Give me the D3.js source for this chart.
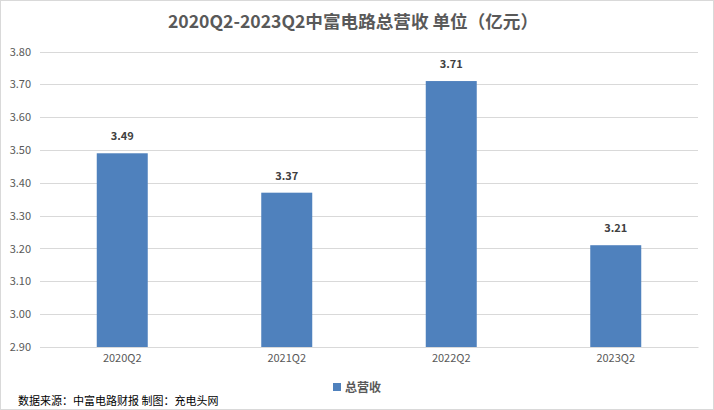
<!DOCTYPE html>
<html><head><meta charset="utf-8">
<script src="https://cdn.jsdelivr.net/npm/d3@7"></script>
<style>html,body{margin:0;padding:0;background:#fff;}svg{display:block;}</style>
</head><body>
<script>
const categories = ["2020Q2","2021Q2","2022Q2","2023Q2"];
const revenue = [3.49, 3.37, 3.71, 3.21];
const yTicks = [2.90,3.00,3.10,3.20,3.30,3.40,3.50,3.60,3.70,3.80];
const seriesName = "总营收";
const titleText = "2020Q2-2023Q2中富电路总营收 单位（亿元）";
const sourceText = "数据来源：中富电路财报 制图：充电头网";

const W = 714, H = 410;
const m = {left: 40, right: 16, top: 51.5, bottom: 63};
const font = "'Noto Sans CJK SC','Microsoft YaHei',sans-serif";
const svg = d3.select("body").append("svg").attr("width", W).attr("height", H);
svg.append("rect").attr("x",0.5).attr("y",0.5).attr("width",W-1).attr("height",H-1)
  .attr("fill","#fff").attr("stroke","#d9d9d9");

const x = d3.scaleBand().domain(categories).range([m.left, W - m.right]).paddingInner(0.69).paddingOuter(0.345);
const y = d3.scaleLinear().domain([2.9, 3.8]).range([H - m.bottom, m.top]);

// gridlines
svg.append("g").selectAll("line").data(yTicks).join("line")
  .attr("x1", m.left).attr("x2", W - m.right)
  .attr("y1", d => Math.round(y(d)) + 0.5).attr("y2", d => Math.round(y(d)) + 0.5)
  .attr("stroke", "#d9d9d9").attr("stroke-width", 1);

// y axis labels
const yAxis = d3.axisLeft(y).tickValues(yTicks).tickFormat(d3.format(".2f")).tickSize(0).tickPadding(9);
const ya = svg.append("g").attr("transform", `translate(${m.left},0)`).call(yAxis);
ya.select(".domain").remove();
ya.selectAll("text").attr("font-family", font).attr("font-size", 11).attr("fill", "#595959");

// bars
svg.append("g").selectAll("rect").data(revenue).join("rect")
  .attr("x", (d,i) => x(categories[i])).attr("width", x.bandwidth())
  .attr("y", d => y(d)).attr("height", d => y(2.9) - y(d))
  .attr("fill", "#4f81bd");

// data labels
svg.append("g").selectAll("text").data(revenue).join("text")
  .attr("x", (d,i) => x(categories[i]) + x.bandwidth()/2)
  .attr("y", d => y(d) - 13)
  .attr("text-anchor", "middle").attr("font-family", font).attr("font-size", 11)
  .attr("font-weight", "bold").attr("fill", "#404040")
  .text(d => d.toFixed(2));

// x axis
const xAxis = d3.axisBottom(x).tickSize(0).tickPadding(7);
const xa = svg.append("g").attr("transform", `translate(0,${H - m.bottom})`).call(xAxis);
xa.select(".domain").attr("stroke", "#d9d9d9");
xa.selectAll("text").attr("font-family", font).attr("font-size", 11).attr("fill", "#595959");

// title
svg.append("text").attr("x", 353).attr("y", 28).attr("text-anchor", "middle")
  .attr("font-family", font).attr("font-size", 17.6).attr("font-weight", "bold")
  .attr("fill", "#595959").text(titleText);

// legend
svg.append("rect").attr("x", 333).attr("y", 383).attr("width", 8).attr("height", 8).attr("fill", "#4f81bd");
svg.append("text").attr("x", 345).attr("y", 392).attr("font-family", font).attr("font-size", 12)
  .attr("font-weight", "bold").attr("fill", "#595959").text(seriesName);

// source
svg.append("text").attr("x", 18).attr("y", 405).attr("font-family", font).attr("font-size", 11)
  .attr("fill", "#000").text(sourceText);
</script>
</body></html>
